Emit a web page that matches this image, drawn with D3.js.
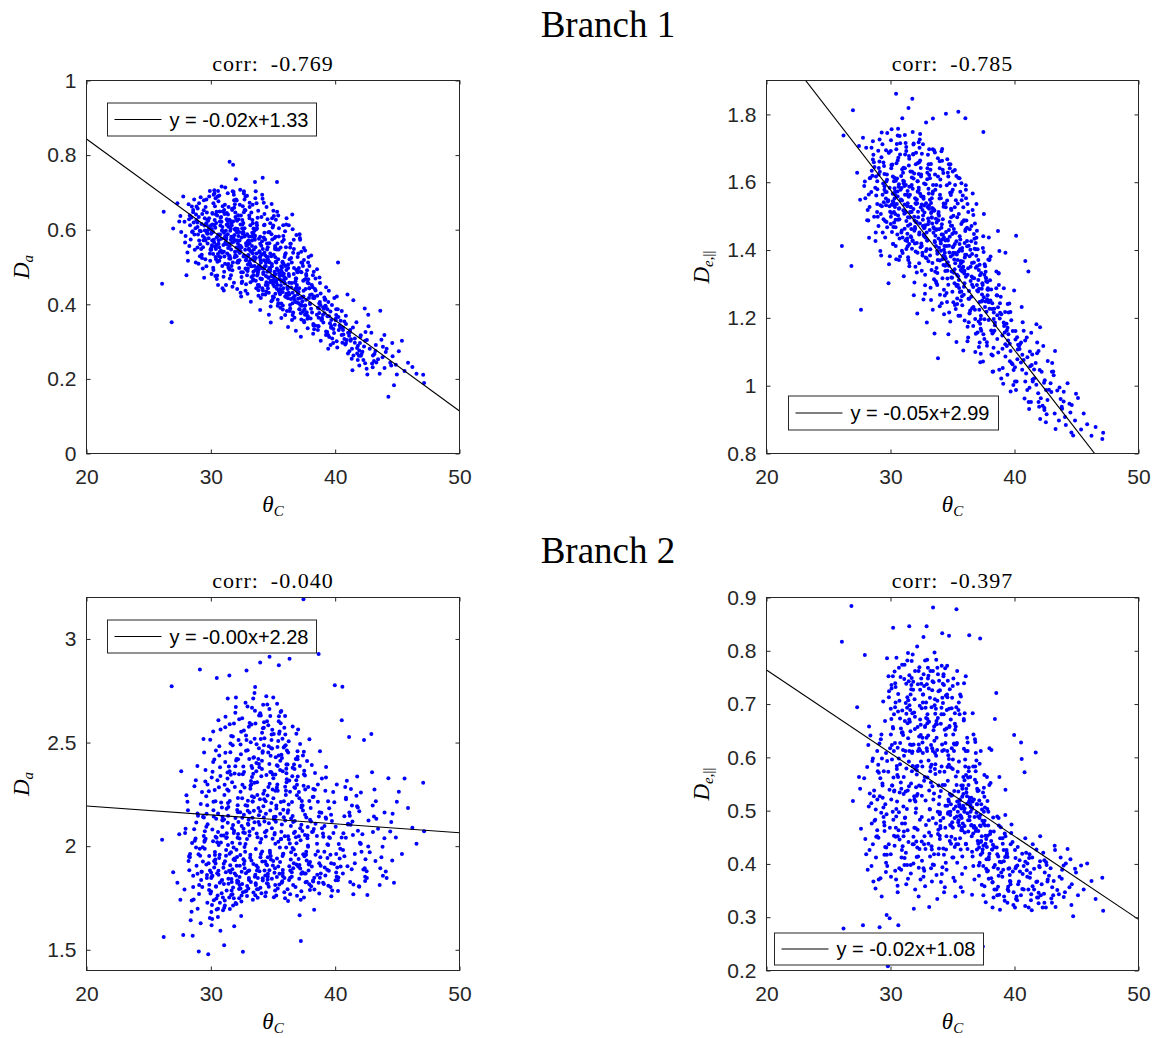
<!DOCTYPE html>
<html>
<head>
<meta charset="utf-8">
<script src="https://cdn.jsdelivr.net/npm/d3@7"></script>
<style>
  body { margin: 0; background: #fff; }
  svg { display: block; }
</style>
</head>
<body>
<svg id="fig" width="1165" height="1038"></svg>
<script>
// Crossing angle theta_C, shared by all four panels (one value per voxel)
const thetaC = [
  26.08,26.21,26.85,26.97,27.31,27.46,27.62,27.78,27.93,27.55,
  28.33,27.97,28.58,28.16,27.88,28.49,28.21,28.04,28.45,28.27,
  28.77,29.06,28.31,28.93,28.62,28.68,28.85,29.12,28.54,28.81,
  29.36,28.83,29.22,29.48,28.94,29.19,29.01,29.03,29.41,29.25,
  29.52,29.31,29.14,29.63,29.27,29.44,29.72,29.79,29.35,29.57,
  29.82,29.66,29.97,29.43,29.69,29.56,29.51,29.92,29.74,29.88,
  30.18,30.03,29.71,30.24,29.87,30.28,29.93,30.12,30.06,29.84,
  30.27,30.43,30.02,30.38,30.14,30.08,30.33,30.21,30.47,30.19,
  30.58,30.72,30.31,30.36,30.45,30.23,30.68,30.51,30.63,30.77,
  30.67,30.89,30.41,30.53,30.84,30.73,30.48,30.61,30.95,30.57,
  30.93,30.62,31.09,30.71,31.16,30.87,30.81,30.98,30.78,31.04,
  31.23,31.38,30.91,31.06,31.13,31.34,31.01,31.28,31.18,31.07,
  31.39,31.59,31.24,31.11,31.48,31.51,31.17,31.42,31.27,31.36,
  31.56,31.32,31.67,31.79,31.45,31.41,31.72,31.64,31.53,31.49,
  31.85,31.68,31.52,31.91,31.76,31.63,31.98,31.73,31.61,31.88,
  31.94,32.12,31.79,32.19,31.71,32.03,31.86,31.99,31.83,32.07,
  32.22,31.92,32.39,32.06,32.28,31.97,32.15,32.01,32.31,32.16,
  32.37,32.52,32.12,32.48,32.23,32.58,32.18,32.33,32.27,32.44,
  32.63,32.31,32.54,32.79,32.46,32.42,32.71,32.52,32.39,32.66,
  32.76,32.98,32.52,32.67,32.61,32.91,32.83,32.72,32.87,32.58,
  33.04,32.82,33.18,32.71,32.96,32.86,33.11,32.79,33.07,32.93,
  33.16,33.31,32.92,33.27,33.02,33.38,33.06,32.98,33.12,33.23,
  33.36,33.58,33.11,33.47,33.43,33.19,33.27,33.51,33.22,33.34,
  33.62,33.31,33.78,33.46,33.52,33.71,33.39,33.67,33.42,33.55,
  33.74,33.91,33.51,33.87,33.62,33.98,33.66,33.77,33.59,33.83,
  34.03,33.72,34.18,33.86,34.12,33.78,33.95,34.07,33.82,33.97,
  34.23,34.38,33.91,34.06,33.99,34.27,34.14,34.31,34.02,34.17,
  34.35,34.11,34.51,34.22,34.58,34.19,34.43,34.26,34.47,34.32,
  34.63,34.46,34.78,34.31,34.57,34.42,34.71,34.38,34.54,34.67,
  34.75,34.98,34.59,34.87,34.52,34.66,34.91,34.62,34.83,34.72,
  35.03,34.71,35.11,34.86,35.18,34.97,34.78,35.07,34.94,34.82,
  35.14,35.31,34.91,35.27,35.06,34.99,35.38,35.17,35.02,35.23,
  35.35,35.12,35.58,35.22,35.51,35.43,35.19,35.26,35.47,35.32,
  35.55,35.78,35.31,35.63,35.42,35.38,35.71,35.46,35.57,35.67,
  35.83,35.52,35.98,35.66,35.91,35.59,35.77,35.62,35.74,35.87,
  35.95,36.11,35.71,36.18,35.86,35.79,36.03,35.97,36.07,35.82,
  36.26,35.92,36.44,36.08,36.17,36.35,35.99,36.31,36.04,36.21,
  36.46,36.72,36.29,36.58,36.22,36.38,36.77,36.33,36.63,36.55,
  36.75,36.51,37.08,36.67,36.93,36.58,36.88,37.02,36.62,36.84,
  37.06,37.31,36.81,37.19,36.97,37.23,36.89,37.36,36.93,37.14,
  37.36,37.62,37.12,37.53,37.45,37.28,37.68,37.19,37.49,37.24,
  37.66,37.41,37.92,37.57,37.83,37.49,37.98,37.74,37.53,37.79,
  38.06,38.32,37.81,38.19,37.97,38.38,37.88,38.14,37.93,38.23,
  38.61,38.89,38.22,38.53,38.37,38.31,38.72,38.42,38.67,38.84,
  38.94,39.21,38.61,39.13,38.72,39.26,38.83,39.05,38.78,39.09,
  39.38,39.67,39.03,39.58,39.21,39.76,39.14,39.49,39.27,39.44,
  39.86,40.26,39.52,40.08,39.97,39.63,39.74,39.91,40.13,39.69,
  40.41,40.74,40.04,40.66,40.53,40.17,40.87,40.23,40.58,40.29,
  41.24,40.62,41.35,40.74,41.12,41.47,40.86,40.81,40.99,41.18,
  41.58,41.94,41.21,41.83,41.71,41.33,42.06,41.46,41.77,41.39,
  42.19,42.55,41.82,42.44,42.32,41.94,42.68,42.07,42.38,41.99,
  42.78,43.12,42.41,43.04,42.91,42.53,43.27,42.66,42.97,42.59,
  43.45,43.84,43.02,43.72,43.16,43.58,43.96,43.31,43.63,43.24,
  43.81,43.97,44.14,44.28,44.43,44.59,44.96,44.07,44.51,44.73,
  44.62,44.88,45.12,45.37,45.58,45.86,46.21,46.54,47.08,47.15,
  28.47,28.12,28.93,28.66,28.38,28.79,28.25,28.58,28.97,28.71,
  29.37,29.05,29.64,28.92,29.18,29.51,29.29,29.68,29.11,29.46,
  29.86,30.21,29.58,30.04,29.73,30.28,29.95,30.13,29.64,30.09,
  30.37,30.02,30.55,30.19,30.46,30.11,30.58,30.29,30.07,30.42,
  30.74,30.33,30.92,30.58,30.41,30.86,30.51,30.97,30.65,30.38,
  31.02,30.68,31.27,30.83,31.14,30.61,31.21,30.94,31.08,30.77,
  31.43,31.05,31.58,31.22,31.36,31.12,31.51,31.28,31.47,31.16,
  31.66,31.34,31.87,31.52,31.74,31.41,31.83,31.57,31.38,31.79,
  32.04,31.62,32.18,31.85,31.97,31.71,32.12,31.91,32.08,31.77,
  32.27,31.93,32.44,32.11,32.36,32.02,32.48,32.19,32.31,32.06,
  32.57,32.21,32.74,32.39,32.66,32.28,32.79,32.47,32.61,32.34,
  32.87,32.53,33.06,32.71,32.95,32.62,33.09,32.78,32.98,32.66,
  33.18,32.83,33.36,33.02,33.27,32.91,33.41,33.09,33.31,32.97,
  33.47,33.12,33.66,33.33,33.58,33.21,33.69,33.41,33.54,33.26,
  33.76,33.42,33.97,33.61,33.88,33.51,33.99,33.68,33.83,33.56,
  34.06,33.71,34.26,33.92,34.17,33.81,34.29,33.97,34.13,33.86,
  34.37,34.02,34.56,34.21,34.48,34.11,34.59,34.28,34.43,34.16,
  34.66,34.31,34.87,34.52,34.78,34.41,34.89,34.58,34.73,34.46,
  34.97,34.62,35.16,34.81,35.07,34.71,35.19,34.88,35.03,34.76,
  35.27,34.93,35.46,35.12,35.38,35.02,35.49,35.19,35.33,35.07,
  35.57,35.21,35.76,35.42,35.68,35.31,35.79,35.48,35.63,35.36,
  35.87,35.53,36.06,35.72,35.98,35.61,36.09,35.78,35.93,35.67,
  36.17,35.83,36.37,36.02,36.27,35.91,36.39,36.08,36.22,35.97,
  36.46,36.12,36.67,36.31,36.58,36.21,36.69,36.38,36.53,36.26,
  36.78,36.43,36.97,36.62,36.88,36.51,36.99,36.68,36.83,36.57,
  37.08,36.73,37.27,36.92,37.18,36.81,37.29,36.98,37.13,36.87,
  37.38,37.03,37.57,37.22,37.48,37.11,37.59,37.28,37.43,37.16,
  37.67,37.32,37.86,37.51,37.78,37.41,37.89,37.58,37.72,37.46,
  37.98,37.63,38.24,37.82,38.12,37.71,38.28,37.92,38.07,37.77,
  38.42,38.03,38.77,38.21,38.61,38.12,38.69,38.33,38.54,38.26,
  39.02,38.56,39.43,38.81,39.27,38.67,39.38,38.93,39.16,38.74,
  39.68,39.24,40.12,39.51,39.93,39.36,40.04,39.62,39.84,39.45,
  40.52,40.08,41.14,40.36,40.87,40.21,41.03,40.63,40.94,40.44,
  41.58,41.04,42.41,41.27,42.12,41.43,42.27,41.76,42.03,41.91
];

// Branch 1, axial diffusivity D_a
const daBranch1 = [
  0.455,0.648,0.352,0.603,0.671,0.622,0.594,0.689,0.566,0.637,
  0.612,0.583,0.647,0.517,0.621,0.594,0.668,0.478,0.633,0.556,
  0.604,0.571,0.638,0.552,0.619,0.587,0.662,0.529,0.596,0.641,
  0.583,0.626,0.548,0.611,0.657,0.596,0.509,0.634,0.572,0.615,
  0.598,0.642,0.561,0.617,0.533,0.679,0.589,0.624,0.496,0.571,
  0.577,0.613,0.546,0.652,0.592,0.521,0.631,0.704,0.563,0.608,
  0.594,0.551,0.627,0.573,0.689,0.612,0.536,0.645,0.481,0.601,
  0.566,0.618,0.589,0.527,0.643,0.602,0.554,0.671,0.579,0.498,
  0.583,0.541,0.626,0.605,0.559,0.694,0.517,0.638,0.572,0.611,
  0.553,0.598,0.641,0.514,0.576,0.622,0.468,0.587,0.663,0.535,
  0.607,0.562,0.528,0.649,0.581,0.716,0.544,0.596,0.632,0.437,
  0.574,0.615,0.538,0.592,0.667,0.506,0.559,0.628,0.583,0.487,
  0.551,0.604,0.579,0.642,0.523,0.782,0.566,0.498,0.613,0.588,
  0.597,0.536,0.619,0.774,0.562,0.508,0.653,0.581,0.469,0.627,
  0.568,0.612,0.529,0.586,0.703,0.547,0.634,0.491,0.573,0.659,
  0.541,0.593,0.622,0.517,0.566,0.681,0.458,0.603,0.577,0.529,
  0.583,0.526,0.614,0.552,0.497,0.646,0.571,0.735,0.538,0.602,
  0.557,0.603,0.512,0.579,0.628,0.486,0.543,0.667,0.594,0.421,
  0.528,0.571,0.614,0.496,0.553,0.638,0.582,0.461,0.543,0.697,
  0.546,0.507,0.592,0.531,0.618,0.478,0.564,0.653,0.522,0.589,
  0.571,0.518,0.543,0.604,0.489,0.557,0.631,0.436,0.582,0.529,
  0.509,0.556,0.588,0.473,0.532,0.617,0.549,0.496,0.672,0.521,
  0.537,0.492,0.564,0.518,0.603,0.459,0.541,0.578,0.407,0.626,
  0.524,0.571,0.486,0.547,0.503,0.612,0.464,0.536,0.589,0.728,
  0.498,0.542,0.517,0.576,0.463,0.529,0.601,0.481,0.553,0.438,
  0.512,0.477,0.548,0.503,0.569,0.452,0.526,0.634,0.491,0.385,
  0.486,0.531,0.504,0.557,0.469,0.518,0.443,0.592,0.497,0.739,
  0.502,0.468,0.527,0.481,0.553,0.437,0.512,0.579,0.459,0.613,
  0.471,0.516,0.493,0.538,0.452,0.503,0.564,0.426,0.487,0.372,
  0.488,0.459,0.521,0.476,0.547,0.431,0.502,0.593,0.464,0.513,
  0.463,0.497,0.448,0.529,0.481,0.412,0.536,0.472,0.574,0.351,
  0.479,0.442,0.508,0.465,0.533,0.421,0.491,0.556,0.453,0.627,
  0.452,0.487,0.431,0.514,0.468,0.403,0.526,0.459,0.582,0.728,
  0.467,0.433,0.496,0.451,0.521,0.412,0.478,0.547,0.441,0.363,
  0.443,0.478,0.421,0.502,0.459,0.391,0.514,0.436,0.568,0.482,
  0.456,0.423,0.487,0.441,0.508,0.397,0.469,0.533,0.428,0.612,
  0.431,0.468,0.414,0.492,0.447,0.382,0.503,0.426,0.553,0.339,
  0.445,0.412,0.476,0.431,0.497,0.389,0.458,0.521,0.418,0.641,
  0.422,0.457,0.403,0.481,0.436,0.371,0.492,0.415,0.538,0.329,
  0.433,0.398,0.462,0.417,0.486,0.376,0.445,0.511,0.405,0.588,
  0.408,0.441,0.387,0.466,0.421,0.359,0.477,0.398,0.519,0.313,
  0.412,0.381,0.443,0.396,0.467,0.356,0.425,0.491,0.387,0.336,
  0.388,0.421,0.367,0.446,0.401,0.343,0.456,0.378,0.503,0.321,
  0.391,0.358,0.417,0.372,0.441,0.333,0.402,0.469,0.364,0.302,
  0.363,0.396,0.342,0.418,0.377,0.318,0.429,0.351,0.457,0.388,
  0.368,0.337,0.392,0.349,0.413,0.308,0.376,0.436,0.327,0.281,
  0.334,0.366,0.312,0.387,0.345,0.291,0.398,0.323,0.421,0.358,
  0.338,0.307,0.361,0.319,0.382,0.284,0.347,0.512,0.297,0.331,
  0.302,0.337,0.281,0.354,0.316,0.263,0.369,0.292,0.426,0.325,
  0.308,0.276,0.331,0.289,0.352,0.254,0.317,0.411,0.268,0.223,
  0.273,0.304,0.251,0.326,0.287,0.236,0.341,0.262,0.389,0.296,
  0.281,0.248,0.302,0.263,0.324,0.227,0.291,0.372,0.241,0.212,
  0.253,0.286,0.231,0.305,0.267,0.214,0.318,0.244,0.383,0.275,
  0.258,0.229,0.281,0.152,0.243,0.296,0.212,0.272,0.236,0.183,
  0.261,0.238,0.274,0.302,0.221,0.243,0.232,0.214,0.211,0.189,
  0.662,0.539,0.607,0.681,0.574,0.512,0.628,0.653,0.587,0.546,
  0.553,0.671,0.502,0.619,0.687,0.578,0.524,0.646,0.597,0.471,
  0.631,0.492,0.661,0.546,0.598,0.706,0.517,0.614,0.681,0.558,
  0.476,0.612,0.689,0.535,0.648,0.571,0.452,0.697,0.594,0.521,
  0.587,0.663,0.503,0.704,0.548,0.621,0.477,0.649,0.529,0.684,
  0.474,0.692,0.561,0.634,0.509,0.676,0.597,0.443,0.653,0.526,
  0.661,0.541,0.623,0.452,0.698,0.577,0.493,0.645,0.531,0.713,
  0.503,0.624,0.679,0.556,0.447,0.608,0.701,0.522,0.641,0.582,
  0.627,0.478,0.563,0.694,0.532,0.656,0.441,0.601,0.678,0.512,
  0.548,0.668,0.486,0.624,0.707,0.571,0.457,0.639,0.518,0.596,
  0.663,0.512,0.584,0.431,0.647,0.556,0.689,0.473,0.602,0.538,
  0.493,0.626,0.547,0.681,0.428,0.593,0.514,0.652,0.569,0.703,
  0.612,0.454,0.667,0.531,0.582,0.691,0.478,0.638,0.502,0.559,
  0.527,0.661,0.443,0.592,0.684,0.503,0.618,0.467,0.573,0.646,
  0.632,0.487,0.562,0.703,0.448,0.597,0.519,0.671,0.423,0.584,
  0.468,0.604,0.672,0.539,0.426,0.651,0.497,0.581,0.694,0.452,
  0.574,0.417,0.628,0.496,0.661,0.534,0.443,0.612,0.476,0.683,
  0.491,0.642,0.408,0.563,0.617,0.452,0.669,0.527,0.594,0.434,
  0.606,0.472,0.548,0.394,0.637,0.513,0.428,0.588,0.651,0.459,
  0.512,0.631,0.437,0.578,0.396,0.611,0.483,0.552,0.648,0.419,
  0.427,0.581,0.512,0.638,0.462,0.547,0.386,0.604,0.491,0.563,
  0.573,0.432,0.614,0.498,0.371,0.552,0.631,0.463,0.527,0.402,
  0.446,0.583,0.398,0.537,0.612,0.473,0.562,0.419,0.507,0.596,
  0.524,0.382,0.573,0.458,0.601,0.416,0.497,0.552,0.358,0.481,
  0.441,0.562,0.493,0.378,0.586,0.512,0.427,0.548,0.469,0.403,
  0.497,0.364,0.541,0.452,0.573,0.406,0.486,0.527,0.387,0.469,
  0.418,0.536,0.372,0.487,0.551,0.443,0.397,0.512,0.463,0.578,
  0.481,0.396,0.527,0.352,0.458,0.503,0.417,0.544,0.371,0.436,
  0.402,0.468,0.347,0.512,0.426,0.379,0.487,0.443,0.531,0.361,
  0.437,0.362,0.406,0.478,0.331,0.452,0.389,0.417,0.494,0.343,
  0.372,0.423,0.318,0.398,0.446,0.341,0.387,0.359,0.412,0.472,
  0.342,0.394,0.301,0.368,0.417,0.326,0.357,0.381,0.296,0.406,
  0.318,0.371,0.274,0.343,0.296,0.387,0.268,0.331,0.304,0.356,
  0.297,0.324,0.242,0.306,0.267,0.338,0.251,0.283,0.312,0.262
];

// Branch 1, parallel extra-axonal diffusivity D_e,||
const deBranch1 = [
  1.412,1.738,1.353,1.812,1.628,1.707,1.224,1.731,1.602,1.548,
  1.612,1.553,1.667,1.518,1.589,1.634,1.487,1.702,1.571,1.436,
  1.584,1.642,1.527,1.603,1.681,1.498,1.561,1.726,1.619,1.452,
  1.563,1.617,1.506,1.648,1.579,1.532,1.693,1.471,1.596,1.384,
  1.588,1.529,1.631,1.552,1.674,1.491,1.607,1.543,1.712,1.437,
  1.547,1.602,1.513,1.658,1.571,1.486,1.624,1.529,1.745,1.358,
  1.566,1.498,1.623,1.541,1.687,1.512,1.584,1.453,1.641,1.302,
  1.532,1.604,1.477,1.563,1.652,1.509,1.582,1.418,1.697,1.544,
  1.558,1.491,1.613,1.527,1.861,1.468,1.594,1.536,1.672,1.381,
  1.522,1.583,1.467,1.611,1.549,1.434,1.656,1.502,1.789,1.573,
  1.546,1.489,1.602,1.523,1.641,1.452,1.578,1.391,1.715,1.517,
  1.511,1.574,1.458,1.597,1.534,1.427,1.628,1.486,1.682,1.323,
  1.538,1.476,1.592,1.507,1.649,1.418,1.563,1.379,1.704,1.529,
  1.496,1.563,1.438,1.581,1.819,1.472,1.614,1.527,1.362,1.677,
  1.521,1.462,1.587,1.498,1.846,1.441,1.553,1.404,1.632,1.267,
  1.487,1.549,1.428,1.572,1.512,1.396,1.611,1.463,1.683,1.536,
  1.513,1.457,1.566,1.482,1.624,1.419,1.538,1.351,1.659,1.213,
  1.478,1.534,1.421,1.559,1.497,1.384,1.603,1.452,1.718,1.526,
  1.502,1.446,1.558,1.473,1.617,1.408,1.531,1.339,1.664,1.254,
  1.468,1.527,1.412,1.551,1.489,1.376,1.594,1.441,1.776,1.518,
  1.493,1.437,1.548,1.464,1.609,1.397,1.522,1.327,1.653,1.186,
  1.459,1.512,1.403,1.539,1.476,1.362,1.581,1.428,1.697,1.289,
  1.478,1.423,1.531,1.451,1.592,1.384,1.509,1.314,1.637,1.495,
  1.442,1.497,1.389,1.521,1.463,1.347,1.566,1.412,1.788,1.154,
  1.461,1.407,1.516,1.434,1.578,1.369,1.492,1.297,1.623,1.081,
  1.427,1.481,1.373,1.506,1.446,1.332,1.552,1.398,1.671,1.234,
  1.446,1.392,1.501,1.419,1.563,1.356,1.476,1.283,1.608,1.431,
  1.412,1.466,1.358,1.491,1.431,1.317,1.537,1.383,1.802,1.211,
  1.428,1.374,1.483,1.401,1.546,1.338,1.459,1.266,1.591,1.152,
  1.393,1.447,1.339,1.472,1.412,1.298,1.518,1.364,1.653,1.413,
  1.408,1.354,1.462,1.381,1.526,1.318,1.439,1.246,1.571,1.189,
  1.372,1.426,1.319,1.451,1.392,1.277,1.497,1.343,1.632,1.391,
  1.387,1.333,1.441,1.361,1.506,1.297,1.418,1.226,1.808,1.129,
  1.352,1.406,1.298,1.431,1.371,1.257,1.477,1.323,1.612,1.368,
  1.366,1.312,1.421,1.341,1.486,1.276,1.398,1.206,1.547,1.104,
  1.331,1.386,1.278,1.411,1.351,1.237,1.456,1.302,1.591,1.348,
  1.346,1.292,1.401,1.321,1.466,1.256,1.378,1.187,1.789,1.131,
  1.309,1.363,1.256,1.388,1.327,1.214,1.433,1.279,1.567,1.322,
  1.317,1.262,1.371,1.291,1.436,1.228,1.348,1.157,1.518,1.099,
  1.278,1.332,1.224,1.357,1.297,1.183,1.402,1.248,1.536,1.286,
  1.286,1.232,1.341,1.261,1.406,1.197,1.318,1.127,1.748,1.069,
  1.248,1.302,1.194,1.327,1.267,1.152,1.372,1.218,1.506,1.255,
  1.251,1.197,1.306,1.226,1.371,1.162,1.283,1.092,1.437,1.041,
  1.208,1.262,1.154,1.287,1.227,1.112,1.332,1.178,1.456,1.215,
  1.211,1.157,1.266,1.186,1.331,1.122,1.243,1.052,1.397,1.006,
  1.163,1.217,1.109,1.242,1.182,1.067,1.287,1.133,1.392,1.171,
  1.161,1.107,1.216,1.136,1.281,1.072,1.193,1.002,1.442,0.983,
  1.108,1.162,1.054,1.187,1.127,1.012,1.368,1.078,1.232,1.121,
  1.101,1.047,1.156,1.076,1.337,1.012,1.133,0.962,1.142,0.931,
  1.048,1.102,0.994,1.127,1.067,0.952,1.172,1.018,1.181,1.061,
  1.041,0.987,1.096,1.016,1.117,0.952,1.073,0.902,1.009,0.938,
  0.988,1.042,0.934,1.067,1.007,0.892,1.102,0.958,0.981,0.916,
  0.986,0.932,1.041,0.961,1.031,0.897,0.953,0.872,0.995,0.918,
  0.938,0.982,0.884,1.007,0.947,0.862,0.976,0.908,0.921,0.853,
  0.943,0.897,0.964,0.871,0.918,0.886,0.852,0.878,0.843,0.861,
  1.702,1.488,1.536,1.659,1.613,1.427,1.564,1.721,1.498,1.645,
  1.452,1.623,1.694,1.512,1.397,1.578,1.747,1.483,1.661,1.541,
  1.688,1.418,1.571,1.724,1.467,1.603,1.382,1.651,1.532,1.756,
  1.573,1.692,1.446,1.617,1.373,1.534,1.738,1.481,1.651,1.412,
  1.736,1.552,1.398,1.664,1.489,1.618,1.713,1.437,1.587,1.506,
  1.604,1.371,1.692,1.547,1.463,1.758,1.429,1.638,1.516,1.682,
  1.371,1.643,1.512,1.716,1.448,1.589,1.669,1.403,1.557,1.739,
  1.588,1.434,1.714,1.352,1.631,1.497,1.682,1.563,1.411,1.748,
  1.653,1.527,1.392,1.711,1.468,1.592,1.334,1.626,1.549,1.427,
  1.577,1.304,1.642,1.483,1.726,1.538,1.419,1.603,1.361,1.687,
  1.392,1.657,1.511,1.742,1.445,1.584,1.296,1.623,1.471,1.702,
  1.538,1.684,1.367,1.596,1.428,1.712,1.484,1.271,1.641,1.557,
  1.612,1.378,1.524,1.681,1.253,1.452,1.697,1.567,1.341,1.628,
  1.467,1.621,1.308,1.553,1.688,1.402,1.592,1.224,1.517,1.654,
  1.397,1.573,1.641,1.336,1.512,1.694,1.268,1.459,1.617,1.427,
  1.553,1.302,1.627,1.461,1.698,1.371,1.537,1.662,1.243,1.488,
  1.382,1.589,1.247,1.637,1.453,1.691,1.316,1.528,1.428,1.663,
  1.617,1.437,1.562,1.273,1.641,1.354,1.497,1.668,1.216,1.526,
  1.472,1.628,1.302,1.569,1.411,1.653,1.238,1.522,1.386,1.597,
  1.547,1.337,1.613,1.452,1.241,1.578,1.396,1.636,1.294,1.501,
  1.418,1.592,1.264,1.537,1.361,1.618,1.483,1.206,1.572,1.327,
  1.526,1.288,1.461,1.597,1.192,1.402,1.553,1.337,1.488,1.251,
  1.427,1.561,1.213,1.386,1.512,1.268,1.461,1.578,1.174,1.339,
  1.351,1.487,1.176,1.413,1.298,1.536,1.232,1.382,1.471,1.142,
  1.404,1.222,1.457,1.318,1.153,1.426,1.281,1.503,1.197,1.362,
  1.312,1.447,1.168,1.383,1.247,1.478,1.206,1.352,1.114,1.421,
  1.269,1.402,1.138,1.326,1.441,1.189,1.358,1.094,1.297,1.224,
  1.336,1.162,1.287,1.394,1.118,1.251,1.372,1.196,1.308,1.071,
  1.227,1.352,1.089,1.284,1.163,1.317,1.042,1.246,1.381,1.128,
  1.186,1.311,1.047,1.243,1.138,1.284,1.098,1.216,1.337,1.157,
  1.148,1.267,1.032,1.198,1.086,1.231,1.117,1.021,1.176,1.297,
  1.102,1.217,0.987,1.152,1.046,1.183,1.012,1.124,1.063,1.241,
  1.068,1.161,0.952,1.117,1.012,1.143,0.987,1.091,1.036,1.122,
  1.021,1.084,0.928,1.057,0.963,1.092,0.941,1.003,1.046,0.978
];

// Branch 2, axial diffusivity D_a
const daBranch2 = [
  2.031,1.562,2.772,1.874,1.823,2.058,2.361,1.571,2.064,1.742,
  1.962,2.084,1.857,2.173,1.791,2.015,1.928,2.246,1.683,1.884,
  2.037,1.812,1.946,2.158,1.743,2.289,1.905,2.852,1.568,1.993,
  1.926,2.114,1.837,2.021,1.698,2.203,1.961,1.492,2.517,1.876,
  2.072,1.803,1.954,2.241,1.876,2.138,1.727,1.478,1.995,2.367,
  1.918,2.156,1.772,2.049,1.861,2.312,1.987,1.653,2.106,1.814,
  2.024,1.846,2.197,1.739,1.953,2.418,1.883,2.081,1.618,2.265,
  1.897,2.132,1.781,2.046,2.359,1.852,1.972,2.214,1.694,2.553,
  2.068,1.824,2.271,1.936,1.748,2.143,2.482,1.869,2.006,1.592,
  1.943,2.187,1.806,2.318,2.052,1.727,2.811,1.881,2.124,1.658,
  2.093,1.862,2.247,1.959,2.406,1.773,2.018,1.691,2.563,1.915,
  1.981,2.208,1.837,2.129,1.714,2.356,1.896,2.062,2.624,1.522,
  2.147,1.873,2.039,2.296,1.752,1.964,2.451,1.819,2.181,2.713,
  1.908,2.273,1.786,2.102,2.384,1.843,2.017,2.532,1.697,2.824,
  2.063,1.827,2.218,1.941,2.487,1.764,2.136,1.889,2.345,1.614,
  1.932,2.174,1.801,2.059,2.308,1.858,2.592,1.726,1.994,2.421,
  2.117,1.868,2.263,1.983,1.749,2.386,2.041,2.672,1.812,2.198,
  1.957,2.231,1.834,2.097,2.512,1.778,2.164,1.906,2.347,1.663,
  2.084,1.851,2.296,2.011,1.733,2.443,1.928,2.617,1.796,2.152,
  1.973,2.219,1.817,2.358,2.066,1.759,2.534,1.893,2.848,1.491,
  2.128,1.869,2.277,1.996,2.463,1.784,2.071,2.692,1.837,2.195,
  1.944,2.241,1.808,2.387,2.103,1.741,2.576,1.879,2.162,2.314,
  2.216,1.862,2.052,2.429,1.776,2.293,1.931,2.739,1.827,2.137,
  1.986,2.334,1.846,2.171,2.518,1.792,2.084,2.401,1.914,2.653,
  2.247,1.879,2.116,2.473,1.813,2.018,2.362,1.751,2.592,2.184,
  1.962,2.308,1.834,2.149,2.547,1.897,2.226,1.773,2.421,2.886,
  2.193,1.858,2.381,2.034,1.799,2.487,1.926,2.268,2.631,1.845,
  2.067,2.412,1.821,2.253,1.947,2.569,1.776,2.138,2.344,1.882,
  2.286,1.913,2.172,2.521,1.839,2.047,2.397,1.758,2.684,2.111,
  1.978,2.346,1.867,2.208,2.603,1.804,2.087,2.452,1.936,2.914,
  2.231,1.884,2.127,2.473,1.812,2.036,2.358,1.753,2.562,1.953,
  2.064,2.391,1.843,2.182,2.541,1.907,2.267,1.786,2.718,2.118,
  2.298,1.872,2.156,2.429,1.815,2.021,2.346,1.762,2.873,1.941,
  1.994,2.362,1.851,2.213,2.507,1.796,2.104,2.438,1.923,2.652,
  2.176,1.867,2.287,2.034,1.778,2.412,1.952,2.593,1.831,2.139,
  2.048,2.323,1.823,2.161,2.476,1.885,2.247,1.749,2.373,1.962,
  2.201,1.846,2.097,2.394,1.792,2.013,2.539,1.903,2.268,1.735,
  1.971,2.284,1.837,2.146,2.452,1.768,2.069,2.905,1.894,2.337,
  2.122,1.853,2.261,1.984,1.761,2.378,1.911,2.563,1.812,2.043,
  1.938,2.196,1.803,2.087,2.419,1.742,2.014,1.874,2.296,1.667,
  2.073,1.826,2.231,1.951,3.191,1.783,2.138,1.892,2.347,1.542,
  1.959,2.172,1.816,2.054,2.286,1.752,1.923,2.411,1.868,2.093,
  2.119,1.847,2.003,2.237,1.789,2.353,1.912,2.068,2.516,1.829,
  1.976,2.161,1.834,2.049,2.272,1.693,1.917,2.108,2.927,1.868,
  2.087,1.858,2.214,1.973,1.772,2.331,1.906,2.046,2.458,1.817,
  1.943,2.152,1.823,2.039,2.267,1.786,2.097,1.881,2.382,2.006,
  2.064,1.849,2.183,1.962,2.776,1.803,2.121,1.914,2.298,1.758,
  1.987,2.144,1.836,2.062,2.608,1.897,2.234,1.784,2.769,2.011,
  2.103,1.868,2.196,1.951,2.527,1.815,2.041,2.286,1.903,2.147,
  1.962,2.168,1.827,2.074,2.243,1.889,2.012,1.768,2.336,2.119,
  2.058,1.846,2.187,1.937,2.512,1.804,2.124,2.259,1.893,2.016,
  1.971,2.143,1.832,2.068,2.541,1.879,2.217,1.998,2.357,1.764,
  2.084,1.857,2.196,1.946,2.273,1.812,2.038,2.132,1.893,1.928,
  1.997,2.162,1.846,2.328,2.071,1.931,2.214,1.878,2.117,1.823,
  2.156,2.042,2.263,1.962,2.327,2.184,2.089,2.012,2.306,2.072,
  1.738,2.214,1.867,2.082,1.642,2.318,1.951,1.803,2.147,2.026,
  2.142,1.769,1.912,2.387,1.628,2.027,2.261,1.846,1.987,2.452,
  1.789,2.173,2.036,1.682,2.297,1.928,2.514,1.857,2.094,1.716,
  2.217,1.873,1.762,2.406,2.041,1.649,2.158,1.927,2.331,1.804,
  2.381,1.957,2.126,1.698,2.462,1.833,2.019,1.752,2.284,1.916,
  2.052,2.437,1.786,2.211,1.927,2.608,1.874,2.142,1.703,2.339,
  2.268,1.817,2.496,1.954,2.113,1.738,2.362,2.043,1.881,2.574,
  1.842,2.327,2.074,2.588,1.768,2.189,1.936,2.453,2.006,1.714,
  2.413,1.971,2.232,1.749,2.644,2.087,1.823,2.351,1.905,2.529,
  1.793,2.286,2.552,1.948,2.164,2.718,1.877,2.419,2.037,1.721,
  2.347,1.829,2.063,2.491,1.914,2.612,2.198,1.762,2.384,2.013,
  2.512,2.137,1.846,2.283,2.674,1.937,2.421,1.781,2.108,2.558,
  1.958,2.461,2.216,1.796,2.587,2.034,2.349,1.882,2.668,2.171,
  2.236,2.594,1.907,2.377,1.763,2.502,2.061,2.713,1.852,2.298,
  2.043,2.427,2.168,1.821,2.631,2.306,1.947,2.492,2.117,2.768,
  2.338,1.882,2.571,2.103,2.458,1.792,2.227,2.642,1.974,2.396,
  1.926,2.517,2.244,2.683,2.074,2.372,1.817,2.598,2.156,2.451,
  2.482,2.119,2.357,1.908,2.628,2.217,2.539,1.854,2.301,2.724,
  2.274,2.583,1.893,2.436,2.141,2.662,2.012,2.512,2.328,1.967,
  2.196,2.471,2.603,2.056,2.387,1.928,2.542,2.268,2.687,2.131,
  2.367,2.142,2.518,1.902,2.441,2.283,1.856,2.627,2.034,2.479,
  2.217,2.553,1.994,2.426,2.124,2.648,2.308,1.871,2.482,2.069,
  2.394,1.963,2.262,2.487,2.032,2.571,1.883,2.352,2.173,2.628,
  2.134,2.462,1.918,2.317,2.578,2.048,2.394,1.847,2.213,2.506,
  2.281,1.936,2.458,2.117,2.542,1.874,2.336,2.063,2.421,1.991,
  2.048,2.372,1.867,2.246,2.493,1.958,2.187,2.431,1.909,2.318,
  2.196,1.902,2.341,2.028,2.456,1.843,2.274,2.103,1.961,2.387,
  1.973,2.218,1.882,2.364,2.052,2.437,1.916,2.152,1.828,2.291,
  2.127,1.868,2.276,1.997,2.392,1.931,2.083,2.218,1.806,2.038,
  1.958,2.184,1.847,2.071,2.297,1.902,2.143,1.791,2.012,2.238,
  2.061,1.862,2.217,1.946,2.132,1.823,2.009,2.326,1.897,2.164,
  1.917,2.138,1.852,2.043,2.212,1.886,2.094,1.958,2.261,1.809,
  2.042,1.873,2.163,1.941,2.227,1.836,2.104,1.982,2.316,1.902,
  1.918,2.108,1.852,2.276,1.973,2.054,1.887,2.193,2.012,1.806
];

// Branch 2, parallel extra-axonal diffusivity D_e,||
const deBranch2 = [
  0.817,0.279,0.884,0.518,0.694,0.563,0.466,0.285,0.792,0.541,
  0.532,0.447,0.598,0.389,0.561,0.476,0.623,0.418,0.514,0.658,
  0.483,0.571,0.426,0.612,0.367,0.538,0.451,0.281,0.593,0.502,
  0.547,0.412,0.634,0.478,0.521,0.373,0.586,0.449,0.705,0.496,
  0.462,0.598,0.527,0.385,0.643,0.488,0.786,0.208,0.551,0.432,
  0.573,0.431,0.617,0.506,0.304,0.668,0.472,0.539,0.396,0.724,
  0.498,0.643,0.417,0.562,0.713,0.453,0.298,0.596,0.521,0.752,
  0.612,0.468,0.691,0.387,0.547,0.736,0.434,0.843,0.503,0.657,
  0.452,0.706,0.538,0.627,0.371,0.483,0.768,0.584,0.285,0.673,
  0.598,0.412,0.732,0.517,0.654,0.446,0.787,0.563,0.688,0.359,
  0.476,0.719,0.603,0.392,0.668,0.541,0.751,0.433,0.627,0.508,
  0.702,0.463,0.646,0.531,0.774,0.398,0.614,0.682,0.487,0.563,
  0.538,0.689,0.421,0.747,0.592,0.846,0.476,0.636,0.362,0.713,
  0.667,0.503,0.728,0.584,0.441,0.796,0.623,0.382,0.698,0.546,
  0.451,0.736,0.612,0.527,0.683,0.398,0.762,0.574,0.649,0.316,
  0.709,0.568,0.437,0.657,0.781,0.496,0.624,0.352,0.742,0.583,
  0.612,0.468,0.727,0.544,0.393,0.676,0.808,0.517,0.639,0.431,
  0.483,0.692,0.576,0.748,0.414,0.628,0.531,0.769,0.339,0.661,
  0.718,0.547,0.406,0.659,0.592,0.371,0.734,0.488,0.613,0.826,
  0.563,0.681,0.442,0.756,0.608,0.846,0.519,0.387,0.703,0.637,
  0.641,0.428,0.712,0.556,0.783,0.473,0.667,0.358,0.594,0.737,
  0.503,0.694,0.617,0.392,0.748,0.546,0.438,0.672,0.319,0.582,
  0.726,0.578,0.459,0.651,0.881,0.414,0.623,0.532,0.762,0.367,
  0.587,0.433,0.706,0.521,0.658,0.379,0.743,0.476,0.612,0.797,
  0.662,0.512,0.398,0.724,0.569,0.447,0.691,0.334,0.608,0.756,
  0.481,0.637,0.712,0.418,0.583,0.768,0.526,0.366,0.674,0.453,
  0.702,0.548,0.429,0.663,0.497,0.752,0.381,0.614,0.467,0.833,
  0.573,0.681,0.452,0.738,0.509,0.394,0.627,0.486,0.716,0.347,
  0.494,0.642,0.531,0.417,0.772,0.468,0.597,0.356,0.689,0.521,
  0.657,0.478,0.713,0.512,0.389,0.604,0.451,0.744,0.498,0.828,
  0.468,0.586,0.503,0.671,0.432,0.529,0.728,0.374,0.617,0.492,
  0.537,0.694,0.471,0.508,0.643,0.412,0.762,0.486,0.578,0.339,
  0.489,0.612,0.521,0.447,0.703,0.498,0.368,0.658,0.536,0.878,
  0.512,0.463,0.624,0.491,0.738,0.402,0.547,0.478,0.681,0.356,
  0.476,0.592,0.504,0.427,0.669,0.519,0.381,0.718,0.486,0.563,
  0.498,0.541,0.463,0.637,0.509,0.414,0.583,0.471,0.752,0.348,
  0.482,0.616,0.511,0.437,0.527,0.829,0.459,0.574,0.393,0.495,
  0.507,0.468,0.548,0.423,0.612,0.489,0.371,0.516,0.683,0.452,
  0.471,0.524,0.438,0.583,0.496,0.342,0.462,0.537,0.414,0.629,
  0.489,0.443,0.558,0.402,0.512,0.823,0.467,0.361,0.594,0.431,
  0.452,0.506,0.397,0.543,0.245,0.471,0.328,0.588,0.434,0.492,
  0.438,0.481,0.372,0.526,0.453,0.341,0.617,0.409,0.498,0.386,
  0.461,0.394,0.503,0.427,0.548,0.352,0.472,0.614,0.413,0.318,
  0.418,0.469,0.365,0.721,0.432,0.337,0.486,0.672,0.391,0.448,
  0.403,0.457,0.341,0.426,0.378,0.492,0.314,0.438,0.563,0.389,
  0.421,0.367,0.448,0.392,0.331,0.474,0.405,0.357,0.539,0.413,
  0.386,0.432,0.349,0.411,0.642,0.368,0.458,0.323,0.395,0.437,
  0.407,0.352,0.426,0.381,0.628,0.339,0.448,0.397,0.597,0.362,
  0.374,0.419,0.343,0.396,0.352,0.437,0.321,0.572,0.388,0.411,
  0.391,0.346,0.418,0.367,0.609,0.332,0.405,0.358,0.427,0.313,
  0.362,0.403,0.337,0.384,0.421,0.326,0.371,0.452,0.344,0.396,
  0.378,0.341,0.407,0.356,0.392,0.318,0.426,0.367,0.335,0.398,
  0.351,0.389,0.327,0.412,0.368,0.343,0.397,0.319,0.376,0.434,
  0.372,0.338,0.401,0.428,0.356,0.323,0.384,0.347,0.409,0.302,
  0.362,0.391,0.341,0.397,0.352,0.401,0.368,0.334,0.374,0.312,
  0.396,0.582,0.463,0.527,0.641,0.354,0.508,0.437,0.574,0.481,
  0.524,0.371,0.608,0.452,0.561,0.417,0.339,0.493,0.626,0.574,
  0.437,0.654,0.512,0.376,0.593,0.681,0.468,0.547,0.402,0.729,
  0.694,0.418,0.567,0.752,0.489,0.623,0.347,0.536,0.672,0.451,
  0.534,0.761,0.426,0.618,0.703,0.389,0.578,0.647,0.463,0.739,
  0.642,0.497,0.738,0.553,0.411,0.686,0.612,0.774,0.461,0.587,
  0.707,0.452,0.624,0.536,0.782,0.398,0.671,0.579,0.743,0.486,
  0.551,0.693,0.437,0.754,0.608,0.372,0.727,0.519,0.664,0.793,
  0.467,0.718,0.584,0.401,0.653,0.749,0.528,0.684,0.442,0.611,
  0.762,0.521,0.642,0.413,0.697,0.578,0.738,0.464,0.616,0.504,
  0.583,0.737,0.452,0.671,0.392,0.624,0.782,0.546,0.703,0.428,
  0.674,0.528,0.753,0.437,0.612,0.718,0.482,0.657,0.562,0.376,
  0.502,0.693,0.617,0.768,0.453,0.637,0.399,0.729,0.586,0.664,
  0.741,0.538,0.662,0.427,0.709,0.574,0.783,0.486,0.631,0.553,
  0.614,0.762,0.493,0.682,0.547,0.418,0.726,0.603,0.456,0.698,
  0.537,0.668,0.429,0.744,0.612,0.498,0.681,0.573,0.772,0.464,
  0.652,0.471,0.718,0.548,0.427,0.693,0.582,0.756,0.509,0.624,
  0.497,0.736,0.581,0.654,0.443,0.767,0.528,0.612,0.691,0.402,
  0.712,0.556,0.624,0.473,0.748,0.517,0.683,0.438,0.596,0.659,
  0.564,0.692,0.437,0.626,0.517,0.734,0.482,0.663,0.548,0.412,
  0.508,0.652,0.468,0.573,0.714,0.437,0.541,0.689,0.491,0.627,
  0.531,0.472,0.612,0.504,0.683,0.448,0.567,0.526,0.739,0.489,
  0.513,0.547,0.482,0.596,0.461,0.672,0.524,0.438,0.628,0.557,
  0.498,0.534,0.457,0.581,0.506,0.428,0.643,0.519,0.473,0.562,
  0.488,0.563,0.427,0.517,0.608,0.472,0.541,0.396,0.583,0.503,
  0.462,0.521,0.417,0.553,0.486,0.634,0.441,0.512,0.378,0.574,
  0.502,0.443,0.567,0.472,0.396,0.538,0.481,0.612,0.427,0.519,
  0.453,0.512,0.387,0.476,0.563,0.421,0.498,0.358,0.447,0.534,
  0.419,0.472,0.366,0.518,0.443,0.391,0.487,0.409,0.552,0.432,
  0.398,0.456,0.342,0.427,0.489,0.373,0.414,0.461,0.352,0.436,
  0.376,0.431,0.327,0.404,0.452,0.357,0.418,0.384,0.339,0.472,
  0.362,0.413,0.334,0.391,0.347,0.426,0.318,0.379,0.441,0.352,
  0.341,0.392,0.318,0.367,0.404,0.332,0.376,0.353,0.421,0.386,
  0.352,0.401,0.327,0.383,0.341,0.412,0.318,0.366,0.394,0.337
];

// Axis ticks and per-panel annotations
const xTicks = [20, 30, 40, 50];
const yTicksDaB1 = [0, 0.2, 0.4, 0.6, 0.8, 1];
const yTicksDeB1 = [0.8, 1, 1.2, 1.4, 1.6, 1.8];
const yTicksDaB2 = [1.5, 2, 2.5, 3];
const yTicksDeB2 = [0.2, 0.3, 0.4, 0.5, 0.6, 0.7, 0.8, 0.9];
const corrValues = ["-0.769", "-0.785", "-0.040", "-0.397"];
const fitSlopes = [-0.0243, -0.0472, -0.0043, -0.0156];
const fitIntercepts = [1.329, 2.993, 2.28, 1.076];
const branchTitles = ["Branch 1", "Branch 2"];

// ---- layout ----
const AXIS_COLOR = "#262626";
const SANS = "'Liberation Sans', Arial, Helvetica, sans-serif";
const SERIF = "'Liberation Serif', 'Times New Roman', serif";

const panels = [
  { ys: daBranch1, yDomain: [0, 1], yTicks: yTicksDaB1, sub: "a",
    box: { left: 86.5, right: 459.5, top: 80.5, bottom: 453.5 },
    legend: { dx: 21, fromTop: true, dy: 22.5, w: 209, h: 33 } },
  { ys: deBranch1, yDomain: [0.8, 1.9], yTicks: yTicksDeB1, sub: "e",
    box: { left: 766.5, right: 1138.5, top: 80.5, bottom: 453.5 },
    legend: { dx: 22, fromTop: false, dy: 57.5, w: 210, h: 34 } },
  { ys: daBranch2, yDomain: [1.4, 3.2], yTicks: yTicksDaB2, sub: "a",
    box: { left: 86.5, right: 459.5, top: 597.5, bottom: 970.5 },
    legend: { dx: 21, fromTop: true, dy: 22.5, w: 209, h: 33 } },
  { ys: deBranch2, yDomain: [0.2, 0.9], yTicks: yTicksDeB2, sub: "e",
    box: { left: 766.5, right: 1138.5, top: 597.5, bottom: 970.5 },
    legend: { dx: 8, fromTop: false, dy: 37.5, w: 209, h: 32 } }
];

const svg = d3.select("#fig");
svg.append("rect").attr("width", 1165).attr("height", 1038).attr("fill", "#fff");

// Branch headings
[37, 563].forEach((yb, i) => {
  svg.append("text")
    .attr("x", 608).attr("y", yb)
    .attr("text-anchor", "middle")
    .attr("font-family", SERIF).attr("font-size", 37)
    .attr("fill", "#000")
    .text(branchTitles[i]);
});

const fmtTick = d3.format("~g");

panels.forEach((p, k) => {
  const b = p.box;
  const x = d3.scaleLinear().domain([20, 50]).range([b.left, b.right]);
  const y = d3.scaleLinear().domain(p.yDomain).range([b.bottom, b.top]);
  const g = svg.append("g");

  g.append("clipPath").attr("id", "plotclip" + k)
    .append("rect")
    .attr("x", b.left).attr("y", b.top)
    .attr("width", b.right - b.left).attr("height", b.bottom - b.top);

  // scatter points
  const n = Math.min(thetaC.length, p.ys.length);
  const pts = d3.range(n).map(i => [thetaC[i], p.ys[i]]);
  g.append("g")
    .selectAll("circle")
    .data(pts)
    .join("circle")
    .attr("cx", d => x(d[0]))
    .attr("cy", d => y(d[1]))
    .attr("r", 2.0)
    .attr("fill", "#0000ff");

  // least-squares fit line
  const fit = t => fitSlopes[k] * t + fitIntercepts[k];
  g.append("path")
    .datum(x.domain())
    .attr("clip-path", `url(#plotclip${k})`)
    .attr("d", d3.line().x(t => x(t)).y(t => y(fit(t))))
    .attr("fill", "none")
    .attr("stroke", "#000")
    .attr("stroke-width", 1.1);

  // axes: inward ticks on all four sides
  const styleAxis = sel => {
    sel.select(".domain").remove();
    sel.selectAll(".tick line").attr("stroke", AXIS_COLOR);
    sel.selectAll(".tick text")
      .attr("fill", AXIS_COLOR)
      .attr("font-family", SANS)
      .attr("font-size", 21);
  };
  g.append("g").attr("transform", `translate(0,${b.bottom})`)
    .call(d3.axisBottom(x).tickValues(xTicks).tickSize(-4).tickPadding(16).tickFormat(fmtTick))
    .call(styleAxis);
  g.append("g").attr("transform", `translate(0,${b.top})`)
    .call(d3.axisTop(x).tickValues(xTicks).tickSize(-4).tickFormat(""))
    .call(styleAxis);
  g.append("g").attr("transform", `translate(${b.left},0)`)
    .call(d3.axisLeft(y).tickValues(p.yTicks).tickSize(-4).tickPadding(10).tickFormat(fmtTick))
    .call(styleAxis);
  g.append("g").attr("transform", `translate(${b.right},0)`)
    .call(d3.axisRight(y).tickValues(p.yTicks).tickSize(-4).tickFormat(""))
    .call(styleAxis);

  g.append("rect")
    .attr("x", b.left).attr("y", b.top)
    .attr("width", b.right - b.left).attr("height", b.bottom - b.top)
    .attr("fill", "none").attr("stroke", AXIS_COLOR).attr("stroke-width", 1);

  // panel title
  g.append("text")
    .attr("x", (b.left + b.right) / 2).attr("y", b.top - 9.5)
    .attr("text-anchor", "middle")
    .attr("font-family", SERIF).attr("font-size", 22)
    .attr("letter-spacing", 1)
    .attr("fill", "#000")
    .text("corr:\u2002" + corrValues[k]);

  // x label: theta_C
  const xl = g.append("text")
    .attr("x", (b.left + b.right) / 2).attr("y", b.bottom + 58)
    .attr("text-anchor", "middle")
    .attr("font-family", SERIF).attr("fill", "#000");
  xl.append("tspan").attr("font-size", 23).attr("font-style", "italic").text("\u03B8");
  xl.append("tspan").attr("font-size", 15).attr("font-style", "italic").attr("dy", 4).text("C");

  // y label: D_a or D_e,||
  const yl = g.append("text")
    .attr("transform", `translate(${b.left - 58},${(b.top + b.bottom) / 2}) rotate(-90)`)
    .attr("text-anchor", "middle")
    .attr("font-family", SERIF).attr("fill", "#000");
  yl.append("tspan").attr("font-size", 23).attr("font-style", "italic").text("D");
  if (p.sub === "a") {
    yl.append("tspan").attr("font-size", 15).attr("font-style", "italic").attr("dy", 4).text("a");
  } else {
    yl.append("tspan").attr("font-size", 15).attr("font-style", "italic").attr("dy", 4).text("e");
    yl.append("tspan").attr("font-size", 15).text(",||");
  }

  // legend
  const L = p.legend;
  const lx = b.left + L.dx;
  const ly = L.fromTop ? b.top + L.dy : b.bottom - L.dy;
  const lg = g.append("g");
  lg.append("rect")
    .attr("x", lx).attr("y", ly).attr("width", L.w).attr("height", L.h)
    .attr("fill", "#fff").attr("stroke", AXIS_COLOR).attr("stroke-width", 1);
  lg.append("line")
    .attr("x1", lx + 7).attr("x2", lx + 54)
    .attr("y1", ly + L.h / 2).attr("y2", ly + L.h / 2)
    .attr("stroke", "#000").attr("stroke-width", 1.1);
  lg.append("text")
    .attr("x", lx + 62).attr("y", ly + L.h / 2 + 7)
    .attr("font-family", SANS).attr("font-size", 20)
    .attr("fill", "#000")
    .text(`y = ${fitSlopes[k].toFixed(2)}x+${fitIntercepts[k].toFixed(2)}`);
});
</script>
</body>
</html>
